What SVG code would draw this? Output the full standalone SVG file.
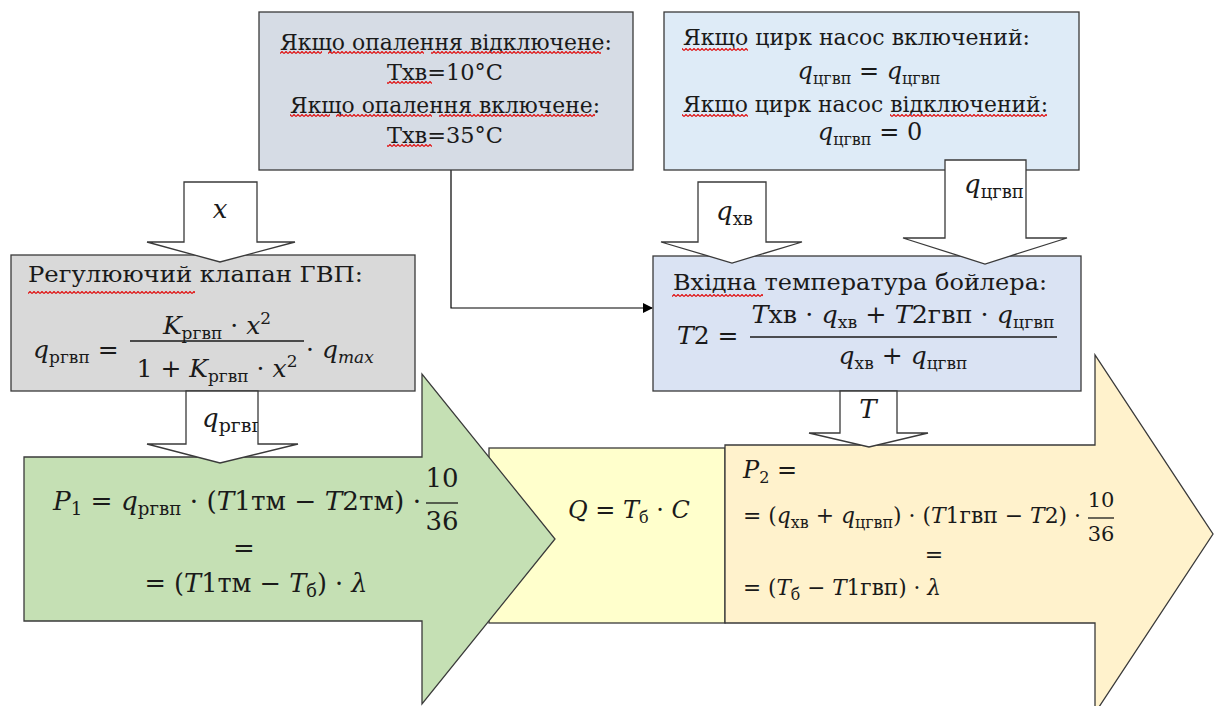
<svg xmlns="http://www.w3.org/2000/svg" width="1218" height="706" viewBox="0 0 1218 706">
<style>
.box{stroke:#3a3a3a;stroke-width:1.3}
.blk{fill:#fff;stroke:#3a3a3a;stroke-width:1.3}
.t{font-family:"DejaVu Serif",serif;font-size:23px;fill:#1a1a1a}
.m{font-family:"DejaVu Serif",serif;font-size:24px;fill:#1a1a1a}
.i{font-style:italic}
.sb{font-size:16px}
.sq{fill:url(#sq)}
.bar{stroke:#1a1a1a;stroke-width:1.3}
</style>
<defs>
<marker id="ah" markerWidth="10" markerHeight="10" refX="9" refY="5" orient="auto" markerUnits="userSpaceOnUse">
<path d="M0,0 L10,5 L0,10 Z" fill="#000"/>
</marker>
<pattern id="sq" width="4" height="3" patternUnits="userSpaceOnUse">
<path d="M0,2.5 L2,0.5 L4,2.5" fill="none" stroke="#e01010" stroke-width="1.2"/>
</pattern>
<clipPath id="c1"><rect x="186" y="391" width="72" height="60"/></clipPath>
<clipPath id="c2"><rect x="945" y="160" width="81" height="80"/></clipPath>
</defs>

<g id="connectors">
<path d="M451,170 V308 H652" fill="none" stroke="#000" stroke-width="1.2" marker-end="url(#ah)"/>
</g>

<g id="heating">
<rect class="box" x="259" y="12" width="374" height="158" fill="#d6dce5"/>
<text class="t" x="446" y="50" text-anchor="middle" textLength="332" lengthAdjust="spacingAndGlyphs">Якщо опалення відключене:</text>
<text class="t" x="445" y="80" text-anchor="middle" textLength="116" lengthAdjust="spacingAndGlyphs">Тхв=10°С</text>
<text class="t" x="445" y="113" text-anchor="middle" textLength="310" lengthAdjust="spacingAndGlyphs">Якщо опалення включене:</text>
<text class="t" x="445" y="143" text-anchor="middle" textLength="116" lengthAdjust="spacingAndGlyphs">Тхв=35°С</text>
<rect class="sq" x="280" y="51" width="42" height="3"/>
<rect class="sq" x="328" y="51" width="96" height="3"/>
<rect class="sq" x="431" y="51" width="170" height="3"/>
<rect class="sq" x="387" y="81" width="45" height="3"/>
<rect class="sq" x="290" y="114" width="40" height="3"/>
<rect class="sq" x="336" y="114" width="96" height="3"/>
<rect class="sq" x="439" y="114" width="156" height="3"/>
<rect class="sq" x="387" y="144" width="45" height="3"/>
</g>

<g id="pump">
<rect class="box" x="664" y="12" width="415" height="158" fill="#deebf7"/>
<text class="t" x="683" y="45" textLength="347" lengthAdjust="spacingAndGlyphs">Якщо цирк насос включений:</text>
<text class="m" x="869" y="79" text-anchor="middle"><tspan class="i">q</tspan><tspan class="sb" dy="5">цгвп</tspan><tspan dy="-5"> = </tspan><tspan class="i">q</tspan><tspan class="sb" dy="5">цгвп</tspan></text>
<text class="t" x="683" y="112" textLength="365" lengthAdjust="spacingAndGlyphs">Якщо цирк насос відключений:</text>
<text class="m" x="870" y="140" text-anchor="middle"><tspan class="i">q</tspan><tspan class="sb" dy="5">цгвп</tspan><tspan dy="-5"> = 0</tspan></text>
<rect class="sq" x="682" y="48" width="66" height="3"/>
<rect class="sq" x="682" y="114" width="66" height="3"/>
<rect class="sq" x="890" y="114" width="157" height="3"/>
</g>

<g id="valve">
<rect class="box" x="11" y="255" width="404" height="136" fill="#d9d9d9"/>
<text class="t" x="28" y="282" textLength="335" lengthAdjust="spacingAndGlyphs">Регулюючий клапан ГВП:</text>
<rect class="sq" x="28" y="291" width="167" height="3"/>
<text class="m" x="33" y="358" style="font-size:25px"><tspan class="i">q</tspan><tspan class="sb" dy="5" style="font-size:17px">ргвп</tspan><tspan dy="-5"> =</tspan></text>
<text class="m" x="217" y="334" text-anchor="middle" style="font-size:25px"><tspan class="i">K</tspan><tspan class="sb" dy="5" style="font-size:17px">ргвп</tspan><tspan dy="-5"> · </tspan><tspan class="i">x</tspan><tspan class="sb" dy="-10" style="font-size:17px">2</tspan></text>
<line class="bar" x1="130" y1="341" x2="304" y2="341"/>
<text class="m" x="217" y="377" text-anchor="middle" style="font-size:25px"><tspan>1 + </tspan><tspan class="i">K</tspan><tspan class="sb" dy="5" style="font-size:17px">ргвп</tspan><tspan dy="-5"> · </tspan><tspan class="i">x</tspan><tspan class="sb" dy="-10" style="font-size:17px">2</tspan></text>
<text class="m" x="306" y="358" style="font-size:25px"><tspan>· </tspan><tspan class="i">q</tspan><tspan class="i sb" dy="5" style="font-size:17px">max</tspan></text>
</g>

<g id="boiler-inlet">
<rect class="box" x="653" y="256" width="428" height="135" fill="#dae3f3"/>
<text class="t" x="673" y="290" textLength="374" lengthAdjust="spacingAndGlyphs">Вхідна температура бойлера:</text>
<rect class="sq" x="672" y="294" width="91" height="3"/>
<text class="m" x="677" y="344" style="font-size:25px"><tspan class="i">T</tspan><tspan>2 =</tspan></text>
<text class="m" x="903" y="323" text-anchor="middle" style="font-size:25px" textLength="303" lengthAdjust="spacingAndGlyphs"><tspan class="i">T</tspan><tspan>хв · </tspan><tspan class="i">q</tspan><tspan class="sb" dy="5" style="font-size:17px">хв</tspan><tspan dy="-5"> + </tspan><tspan class="i">T</tspan><tspan>2гвп · </tspan><tspan class="i">q</tspan><tspan class="sb" dy="5" style="font-size:17px">цгвп</tspan></text>
<line class="bar" x1="750" y1="337" x2="1057" y2="337"/>
<text class="m" x="903" y="364" text-anchor="middle" style="font-size:25px"><tspan class="i">q</tspan><tspan class="sb" dy="5" style="font-size:17px">хв</tspan><tspan dy="-5"> + </tspan><tspan class="i">q</tspan><tspan class="sb" dy="5" style="font-size:17px">цгвп</tspan></text>
</g>

<g id="storage">
<rect class="box" x="489" y="448" width="236" height="175" fill="#ffffcc"/>
<text class="m" x="568" y="518"><tspan class="i">Q</tspan><tspan> = </tspan><tspan class="i">T</tspan><tspan class="sb" dy="5">б</tspan><tspan dy="-5"> · </tspan><tspan class="i">C</tspan></text>
</g>

<g id="heat-supply">
<polygon class="box" points="24,457 422,457 422,374 555,539 422,704 422,621 24,621" fill="#c5e0b4"/>
<text class="m" x="53" y="510" style="font-size:26px" textLength="368" lengthAdjust="spacingAndGlyphs"><tspan class="i">P</tspan><tspan class="sb" dy="5" style="font-size:18px">1</tspan><tspan dy="-5"> = </tspan><tspan class="i">q</tspan><tspan class="sb" dy="5" style="font-size:18px">ргвп</tspan><tspan dy="-5"> · (</tspan><tspan class="i">T</tspan><tspan>1тм − </tspan><tspan class="i">T</tspan><tspan>2тм) ·</tspan></text>
<text class="m" x="442" y="487" text-anchor="middle" style="font-size:26px">10</text>
<line class="bar" x1="426" y1="503" x2="458" y2="503"/>
<text class="m" x="442" y="530" text-anchor="middle" style="font-size:26px">36</text>
<text class="m" x="244" y="557" text-anchor="middle" style="font-size:26px">=</text>
<text class="m" x="256" y="592" text-anchor="middle" style="font-size:26px" textLength="223" lengthAdjust="spacingAndGlyphs"><tspan>= (</tspan><tspan class="i">T</tspan><tspan>1тм − </tspan><tspan class="i">T</tspan><tspan class="sb" dy="5" style="font-size:18px">б</tspan><tspan dy="-5">) · </tspan><tspan class="i">λ</tspan></text>
</g>

<g id="dhw-output">
<polygon class="box" points="725,445 1095,445 1095,355 1213,534 1095,713 1095,623 725,623" fill="#fff2cc"/>
<text class="m" x="743" y="478" style="font-size:24px"><tspan class="i">P</tspan><tspan class="sb" dy="5">2</tspan><tspan dy="-5"> =</tspan></text>
<text class="m" x="743" y="523" style="font-size:22px" textLength="338" lengthAdjust="spacingAndGlyphs"><tspan>= (</tspan><tspan class="i">q</tspan><tspan class="sb" dy="5">хв</tspan><tspan dy="-5"> + </tspan><tspan class="i">q</tspan><tspan class="sb" dy="5">цгвп</tspan><tspan dy="-5">) · (</tspan><tspan class="i">T</tspan><tspan>1гвп − </tspan><tspan class="i">T</tspan><tspan>2) ·</tspan></text>
<text class="m" x="1101" y="507" text-anchor="middle" style="font-size:21px">10</text>
<line class="bar" x1="1088" y1="518" x2="1114" y2="518"/>
<text class="m" x="1101" y="541" text-anchor="middle" style="font-size:21px">36</text>
<text class="m" x="934" y="562" text-anchor="middle" style="font-size:22px">=</text>
<text class="m" x="743" y="595" style="font-size:22px" textLength="198" lengthAdjust="spacingAndGlyphs"><tspan>= (</tspan><tspan class="i">T</tspan><tspan class="sb" dy="5">б</tspan><tspan dy="-5"> − </tspan><tspan class="i">T</tspan><tspan>1гвп) · </tspan><tspan class="i">λ</tspan></text>
</g>

<g id="arrow-x">
<polygon class="blk" points="184,182 257,182 257,242 295,242 220,262 147,242 184,242"/>
<text class="m i" x="220" y="218" text-anchor="middle" style="font-size:26px">x</text>
</g>
<g id="arrow-qxv">
<polygon class="blk" points="698,182 766,182 766,242 802,242 732,263 661,242 698,242"/>
<text class="m" x="716" y="220" style="font-size:26px"><tspan class="i">q</tspan><tspan class="sb" dy="5" style="font-size:18px">хв</tspan></text>
</g>
<g id="arrow-qcgvp">
<polygon class="blk" points="945,160 1026,160 1026,238 1067,238 985,264 903,238 945,238"/>
<text class="m" x="964" y="193" clip-path="url(#c2)" style="font-size:26px"><tspan class="i">q</tspan><tspan class="sb" dy="5" style="font-size:18px">цгвп</tspan></text>
</g>
<g id="arrow-qrgvp">
<polygon class="blk" points="186,391 258,391 258,444 298,444 220,463 147,444 186,444"/>
<text class="m" x="202" y="427" clip-path="url(#c1)" style="font-size:26px"><tspan class="i">q</tspan><tspan class="sb" dy="5" style="font-size:19px">ргвп</tspan></text>
</g>
<g id="arrow-T">
<polygon class="blk" points="840,391 897,391 897,433 928,433 869,447 809,433 840,433"/>
<text class="m i" x="868" y="418" text-anchor="middle" style="font-size:26px">T</text>
</g>
</svg>
